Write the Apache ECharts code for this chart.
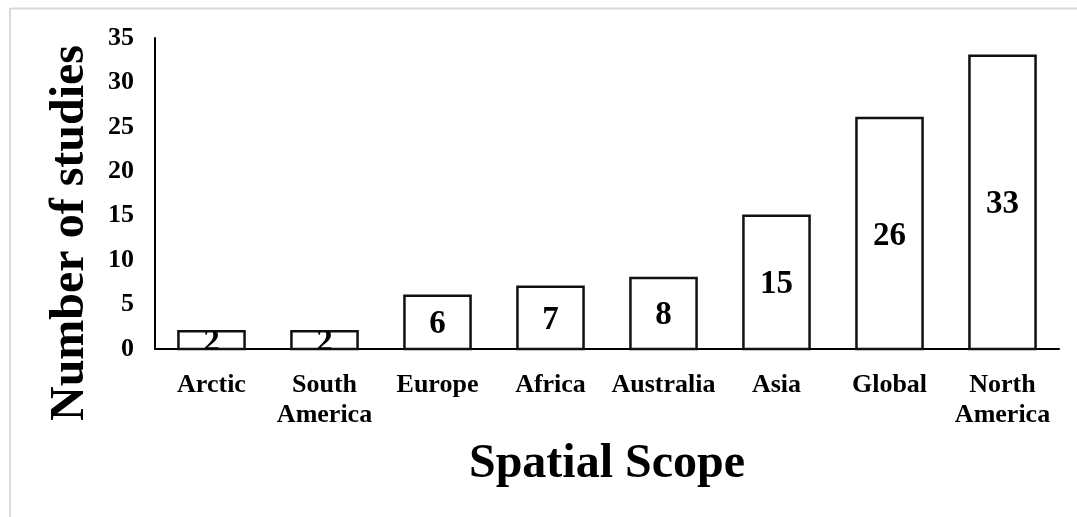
<!DOCTYPE html>
<html>
<head>
<meta charset="utf-8">
<script src="https://cdn.jsdelivr.net/npm/echarts@6/dist/echarts.min.js"></script>
<style>
  html, body { margin: 0; padding: 0; background: #fff; }
  #chart { width: 1077px; height: 517px; }
</style>
</head>
<body>
<div id="chart"></div>
<script>
// Number of studies by spatial scope
const categories = ['Arctic', 'South\nAmerica', 'Europe', 'Africa', 'Australia', 'Asia', 'Global', 'North\nAmerica'];
const studies = [2, 2, 6, 7, 8, 15, 26, 33];
const yTicks = { min: 0, max: 35, interval: 5 };

const FONT = '"Liberation Serif", "Times New Roman", serif';

const chart = echarts.init(document.getElementById('chart'), null, { renderer: 'canvas' });

// Outlined bars with the count printed inside, clipped to the bar's box
function renderBar(params, api) {
  const idx = api.value(0);
  const val = api.value(1);
  const base = api.coord([idx, 0]);
  const top = api.coord([idx, val]);
  const bw = api.size([1, 0])[0] * 0.585;
  const x = base[0] - bw / 2;
  const h = base[1] - top[1];
  return {
    type: 'group',
    children: [
      {
        type: 'rect',
        shape: { x: x, y: top[1], width: bw, height: h },
        style: { fill: '#ffffff', stroke: '#111111', lineWidth: 2.5 }
      },
      {
        type: 'text',
        clipPath: { type: 'rect', shape: { x: x, y: top[1], width: bw, height: h } },
        style: {
          text: String(val),
          x: base[0],
          y: (top[1] + base[1]) / 2 + 2.5,
          align: 'center',
          verticalAlign: 'middle',
          font: 'bold 33px ' + FONT,
          fill: '#000000'
        },
        z2: 10
      }
    ]
  };
}

chart.setOption({
  backgroundColor: '#ffffff',
  animation: false,
  grid: { left: 155, right: 18, top: 38, bottom: 168, containLabel: false },
  xAxis: {
    type: 'category',
    data: categories,
    name: 'Spatial Scope',
    nameLocation: 'middle',
    nameGap: 92,
    nameTextStyle: { fontFamily: FONT, fontWeight: 'bold', fontSize: 48, color: '#000' },
    axisLine: { show: true, lineStyle: { color: '#000', width: 2 } },
    axisTick: { show: false },
    axisLabel: {
      interval: 0,
      margin: 21,
      fontFamily: FONT,
      fontWeight: 'bold',
      fontSize: 26,
      lineHeight: 30,
      color: '#000'
    },
    splitLine: { show: false }
  },
  yAxis: {
    type: 'value',
    min: yTicks.min,
    max: yTicks.max,
    interval: yTicks.interval,
    axisLine: { show: true, lineStyle: { color: '#000', width: 2 } },
    axisTick: { show: false },
    axisLabel: {
      margin: 21,
      fontFamily: FONT,
      fontWeight: 'bold',
      fontSize: 26,
      color: '#000'
    },
    splitLine: { show: false }
  },
  series: [{
    type: 'custom',
    renderItem: renderBar,
    encode: { x: 0, y: 1 },
    data: studies.map((v, i) => [i, v]),
    clip: false
  }],
  graphic: [
    {
      type: 'text',
      x: 71,
      y: 233,
      rotation: Math.PI / 2,
      style: {
        text: 'Number of studies',
        align: 'center',
        verticalAlign: 'middle',
        font: 'bold 48px ' + FONT,
        fill: '#000'
      }
    },
    {
      type: 'line',
      shape: { x1: 10, y1: 8.5, x2: 1077, y2: 8.5 },
      style: { stroke: '#d9d9d9', lineWidth: 2 }
    },
    {
      type: 'line',
      shape: { x1: 10, y1: 8, x2: 10, y2: 517 },
      style: { stroke: '#d9d9d9', lineWidth: 2 }
    }
  ]
});
</script>
</body>
</html>
